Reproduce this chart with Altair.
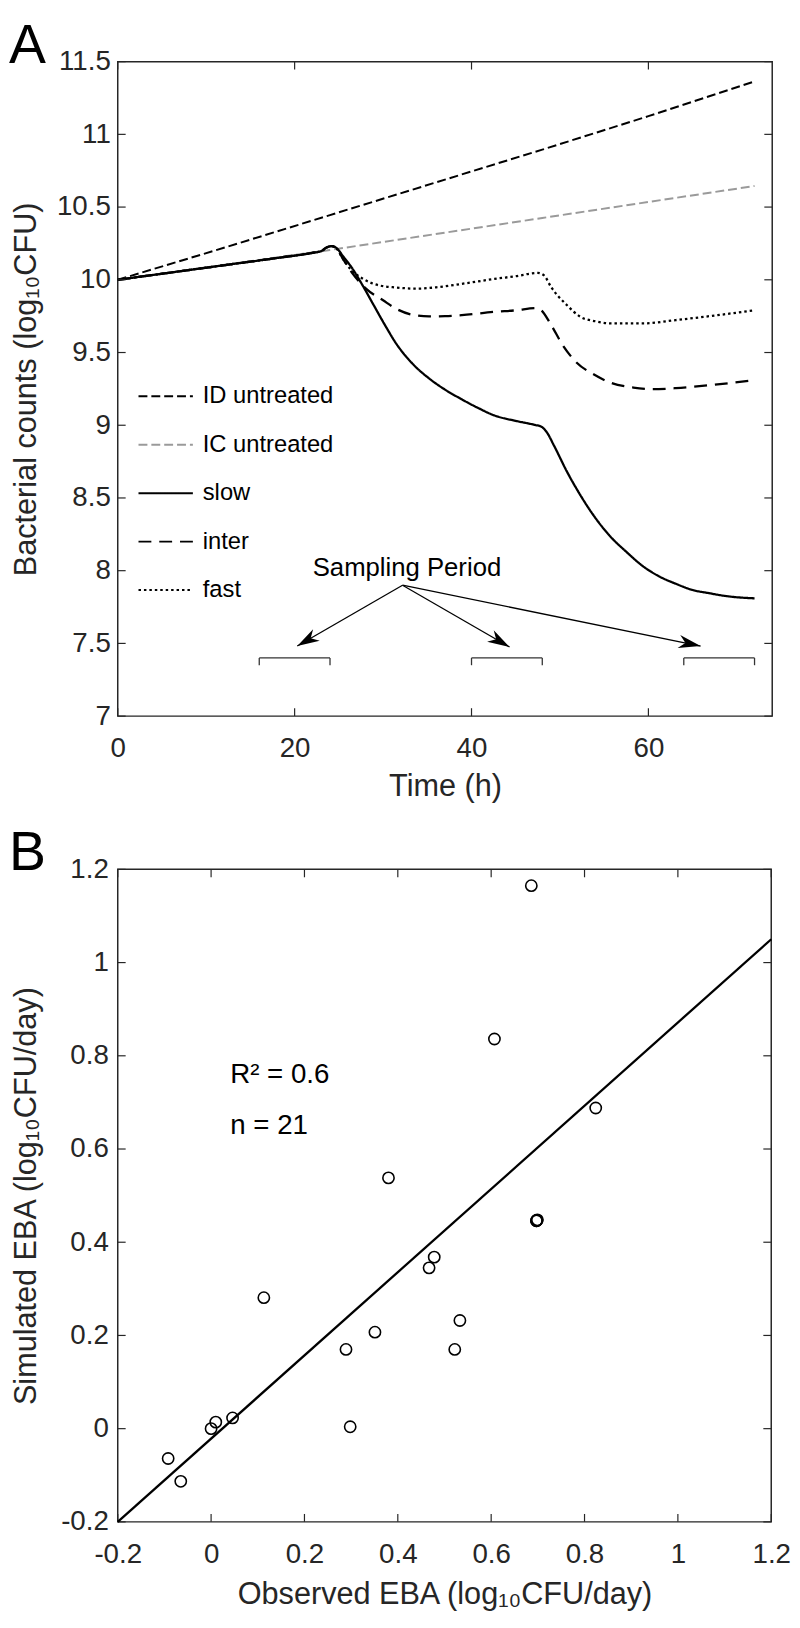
import math
import altair as alt
import pandas as pd

FONT = "Liberation Sans"
INK = "#262626"

# ---------------- Panel A data ----------------
series_order = ["ID untreated", "IC untreated", "slow", "inter", "fast"]
series_colors = ["#000000", "#9a9a9a", "#000000", "#000000", "#000000"]
series_dashes = [[9, 4], [9, 4], [1, 0], [13, 8], [2.5, 3]]

time_id = [0, 12, 24, 36, 48, 60, 72]
count_id = [10.0, 10.22, 10.445, 10.67, 10.895, 11.125, 11.364]

time_ic = [0, 24, 48, 72]
count_ic = [10.0, 10.205, 10.425, 10.645]

time_pre = [0, 6, 12, 18, 22, 23]
count_pre = [10.0, 10.05, 10.10, 10.15, 10.185, 10.197]

time_slow = [23.6, 24.2, 24.8, 25.5, 26.5, 27.7, 28.9, 30.2, 31.5, 33.3, 35.2, 37, 38.9, 40.7, 42.6, 45, 47.1,
             47.9, 48.5, 49.3, 50.8, 52.3, 53.8, 55.7, 57.5, 59.4, 61.3, 63.1, 65, 66.9, 68.7, 70.5, 72]
count_slow = [10.222, 10.232, 10.215, 10.16, 10.08, 9.96, 9.83, 9.69, 9.56, 9.425, 9.322, 9.245, 9.178, 9.12,
              9.067, 9.03, 9.003, 8.99, 8.953, 8.863, 8.68, 8.52, 8.38, 8.235, 8.13, 8.03, 7.958, 7.91, 7.867,
              7.845, 7.826, 7.815, 7.81]

time_inter = [23.6, 24.2, 24.8, 25.5, 26.6, 28.1, 30, 31.5, 33.3, 35.2, 37, 38.9, 42.6, 45, 47.3, 47.9, 48.9,
              50.4, 51.9, 53.8, 55.7, 58.3, 60.5, 63.1, 66.9, 72]
count_inter = [10.222, 10.232, 10.21, 10.14, 10.04, 9.938, 9.859, 9.80, 9.76, 9.748, 9.75, 9.757, 9.78, 9.79,
               9.805, 9.79, 9.70, 9.542, 9.43, 9.35, 9.293, 9.259, 9.248, 9.255, 9.275, 9.311]

time_fast = [23.6, 24.2, 24.8, 25.5, 26.3, 27.75, 29.6, 31.5, 33.7, 36, 38.9, 42.6, 45, 47.5, 48.2, 49, 50.8,
             52.3, 54, 55.7, 59.4, 63.1, 66.9, 72]
count_fast = [10.222, 10.232, 10.21, 10.14, 10.075, 10.006, 9.961, 9.947, 9.939, 9.948, 9.972, 10.006, 10.025,
              10.047, 10.03, 9.95, 9.825, 9.746, 9.715, 9.70, 9.70, 9.723, 9.75, 9.79]

xticks_A = [0, 20, 40, 60]
yticks_A = [7, 7.5, 8, 8.5, 9, 9.5, 10, 10.5, 11, 11.5]

bracket_start = [16, 40, 64]
bracket_end = [24, 48, 72]
bracket_level = 7.4
bracket_foot = 7.35

arrow_origin_t = 32.2
arrow_origin_v = 7.9
arrow_tip_t = [20.3, 44.3, 65.9]
arrow_tip_v = [7.482, 7.475, 7.482]

sampling_label = "Sampling Period"
sampling_label_t = 32.7
sampling_label_v = 7.963

# ---------------- Panel B data ----------------
observed_eba = [0.686, 0.607, 0.380, 0.113, 0.289, 0.351, 0.824, 0.697, 0.699, 0.698, 0.478, 0.467, 0.533,
                0.522, 0.298, -0.092, -0.065, 0.000, 0.010, 0.046, 0.697]
simulated_eba = [1.165, 0.836, 0.538, 0.281, 0.170, 0.207, 0.688, 0.446, 0.448, 0.447, 0.368, 0.345, 0.232,
                 0.170, 0.004, -0.064, -0.113, 0.000, 0.014, 0.023, 0.446]
fit_x = [-0.2, 1.2]
fit_y = [-0.2, 1.05]
ticks_B = [-0.2, 0, 0.2, 0.4, 0.6, 0.8, 1.0, 1.2]
annot_B = ["R\u00b2 = 0.6", "n = 21"]
annot_B_x = [0.041, 0.041]
annot_B_y = [0.741, 0.632]

# ---------------- sizes ----------------
W_A, H_A = 662, 662
W_B, H_B = 661, 660
XDOM_A = [0, 74]
YDOM_A = [7, 11.5]
DOM_B = [-0.2, 1.2]

# ---------------- Panel A ----------------
def frame(name, ts, vs):
    return pd.DataFrame({"t": ts, "v": vs, "series": name})

untreated = pd.concat([frame("ID untreated", time_id, count_id),
                       frame("IC untreated", time_ic, count_ic)], ignore_index=True)
treated = pd.concat([frame("slow", time_pre + time_slow, count_pre + count_slow),
                     frame("inter", time_pre + time_inter, count_pre + count_inter),
                     frame("fast", time_pre + time_fast, count_pre + count_fast)], ignore_index=True)

axA_x = alt.Axis(title="Time (h)", values=xticks_A, labelExpr="toString(datum.value)",
                 labelPadding=19, titlePadding=9.5, labelFlush=False, labelOverlap=False)
axA_y = alt.Axis(title="Bacterial counts (log\u2081\u2080CFU)", values=yticks_A,
                 labelExpr="toString(datum.value)", labelPadding=7.5, titlePadding=14,
                 labelOverlap=False)

def XA(field):
    return alt.X(field, type="quantitative", scale=alt.Scale(domain=XDOM_A, nice=False, zero=False), axis=axA_x)

def YA(field):
    return alt.Y(field, type="quantitative", scale=alt.Scale(domain=YDOM_A, nice=False, zero=False), axis=axA_y)

legendA = alt.Legend(title=None, orient="none", legendX=20, legendY=310, direction="vertical",
                     symbolType="stroke", symbolSize=3025, symbolStrokeWidth=2, labelFontSize=24,
                     labelFont=FONT, labelColor="black", labelOffset=9, rowPadding=8, padding=0,
                     labelLimit=0)
color_enc = alt.Color("series:N", scale=alt.Scale(domain=series_order, range=series_colors), legend=legendA)
dash_enc = alt.StrokeDash("series:N", scale=alt.Scale(domain=series_order, range=series_dashes), legend=legendA)

lines_untreated = alt.Chart(untreated).mark_line(strokeWidth=2.0).encode(
    x=XA("t"), y=YA("v"), color=color_enc, strokeDash=dash_enc, detail="series:N")
lines_treated = alt.Chart(treated).mark_line(strokeWidth=2.3, interpolate="monotone").encode(
    x=XA("t"), y=YA("v"), color=color_enc, strokeDash=dash_enc, detail="series:N")

ytick_df = pd.DataFrame({"v": yticks_A})
xtick_df = pd.DataFrame({"t": xticks_A})
ticksA = [
    alt.Chart(ytick_df).mark_rule(color=INK, strokeWidth=1.2).encode(y=YA("v"), x=alt.value(0), x2=alt.value(8)),
    alt.Chart(ytick_df).mark_rule(color=INK, strokeWidth=1.2).encode(y=YA("v"), x=alt.value(W_A - 8), x2=alt.value(W_A)),
    alt.Chart(xtick_df).mark_rule(color=INK, strokeWidth=1.2).encode(x=XA("t"), y=alt.value(H_A - 8), y2=alt.value(H_A)),
    alt.Chart(xtick_df).mark_rule(color=INK, strokeWidth=1.2).encode(x=XA("t"), y=alt.value(0), y2=alt.value(8)),
]

br = pd.DataFrame({"t": bracket_start, "t2": bracket_end, "v": bracket_level, "v2": bracket_foot})
brackets = [
    alt.Chart(br).mark_rule(color="#333333", strokeWidth=1.3).encode(x=XA("t"), x2="t2", y=YA("v")),
    alt.Chart(br).mark_rule(color="#333333", strokeWidth=1.3).encode(x=XA("t"), y=YA("v"), y2="v2"),
    alt.Chart(br).mark_rule(color="#333333", strokeWidth=1.3).encode(x=XA("t2"), y=YA("v"), y2="v2"),
]

sx = W_A / (XDOM_A[1] - XDOM_A[0])
sy = H_A / (YDOM_A[1] - YDOM_A[0])
angles = []
for tt, tv in zip(arrow_tip_t, arrow_tip_v):
    dx = (tt - arrow_origin_t) * sx
    dy = -(tv - arrow_origin_v) * sy
    angles.append(math.degrees(math.atan2(dy, dx)) % 360)

arr = pd.DataFrame({"t": arrow_origin_t, "v": arrow_origin_v, "t2": arrow_tip_t, "v2": arrow_tip_v,
                    "ang": angles})
arrow_lines = alt.Chart(arr).mark_rule(color="black", strokeWidth=1.3).encode(
    x=XA("t"), y=YA("v"), x2="t2", y2="v2")
head_path = "M0,0L-1,-0.3L-0.7,0L-1,0.3Z"
arrow_heads = alt.Chart(arr).mark_point(shape=head_path, filled=True, color="black", opacity=1,
                                        size=2000, strokeWidth=0).encode(
    x=XA("t2"), y=YA("v2"), angle=alt.Angle("ang:Q", scale=None))

samp = pd.DataFrame({"t": [sampling_label_t], "v": [sampling_label_v], "label": [sampling_label]})
samp_text = alt.Chart(samp).mark_text(font=FONT, fontSize=26, color="black", align="center",
                                      baseline="alphabetic").encode(x=XA("t"), y=YA("v"), text="label:N")

letterA = alt.Chart(pd.DataFrame({"label": ["A"]})).mark_text(
    font=FONT, fontSize=56, color="black", align="left", baseline="alphabetic").encode(
    text="label:N", x=alt.value(-110), y=alt.value(1))

chartA = alt.layer(lines_untreated, lines_treated, *ticksA, *brackets, arrow_lines, arrow_heads,
                   samp_text, letterA).properties(width=W_A, height=H_A)

# ---------------- Panel B ----------------
labB = "datum.value < 0 ? '-' + toString(abs(datum.value)) : toString(datum.value)"
axB_x = alt.Axis(title="Observed EBA (log\u2081\u2080CFU/day)", values=ticks_B, labelExpr=labB,
                 labelPadding=19, titlePadding=11.5, labelFlush=False, labelOverlap=False)
axB_y = alt.Axis(title="Simulated EBA (log\u2081\u2080CFU/day)", values=ticks_B, labelExpr=labB,
                 labelPadding=9.5, titlePadding=18.3, labelOverlap=False)

def XB(field):
    return alt.X(field, type="quantitative", scale=alt.Scale(domain=DOM_B, nice=False, zero=False), axis=axB_x)

def YB(field):
    return alt.Y(field, type="quantitative", scale=alt.Scale(domain=DOM_B, nice=False, zero=False), axis=axB_y)

pts = pd.DataFrame({"obs": observed_eba, "sim": simulated_eba})
fit = pd.DataFrame({"obs": fit_x, "sim": fit_y})
tickB_df = pd.DataFrame({"val": ticks_B})

fit_line = alt.Chart(fit).mark_line(color="black", strokeWidth=2.3).encode(x=XB("obs"), y=YB("sim"))
circles = alt.Chart(pts).mark_point(shape="circle", filled=False, color="black", size=130,
                                    strokeWidth=1.6, opacity=1).encode(x=XB("obs"), y=YB("sim"))
ticksB = [
    alt.Chart(tickB_df).mark_rule(color=INK, strokeWidth=1.2).encode(y=YB("val"), x=alt.value(0), x2=alt.value(8)),
    alt.Chart(tickB_df).mark_rule(color=INK, strokeWidth=1.2).encode(y=YB("val"), x=alt.value(W_B - 8), x2=alt.value(W_B)),
    alt.Chart(tickB_df).mark_rule(color=INK, strokeWidth=1.2).encode(x=XB("val"), y=alt.value(H_B - 8), y2=alt.value(H_B)),
    alt.Chart(tickB_df).mark_rule(color=INK, strokeWidth=1.2).encode(x=XB("val"), y=alt.value(0), y2=alt.value(8)),
]
ann = pd.DataFrame({"obs": annot_B_x, "sim": annot_B_y, "label": annot_B})
ann_text = alt.Chart(ann).mark_text(font=FONT, fontSize=28, color="black", align="left",
                                    baseline="alphabetic").encode(x=XB("obs"), y=YB("sim"), text="label:N")
letterB = alt.Chart(pd.DataFrame({"label": ["B"]})).mark_text(
    font=FONT, fontSize=56, color="black", align="left", baseline="alphabetic").encode(
    text="label:N", x=alt.value(-110), y=alt.value(1))

chartB = alt.layer(*ticksB, fit_line, circles, ann_text, letterB).properties(width=W_B, height=H_B)

chart = alt.vconcat(chartA, chartB, spacing=22).properties(
    padding={"left": 0, "top": 0, "right": 0, "bottom": 0}, background="white"
).configure_view(stroke=INK, strokeWidth=1.5).configure_axis(
    labelFont=FONT, titleFont=FONT, labelFontSize=28, titleFontSize=31, labelColor=INK, titleColor=INK,
    titleFontWeight="normal", ticks=False, tickSize=0, domain=False, grid=False
)

chart.save("out.html", embed_options={"renderer": "svg", "actions": False})
